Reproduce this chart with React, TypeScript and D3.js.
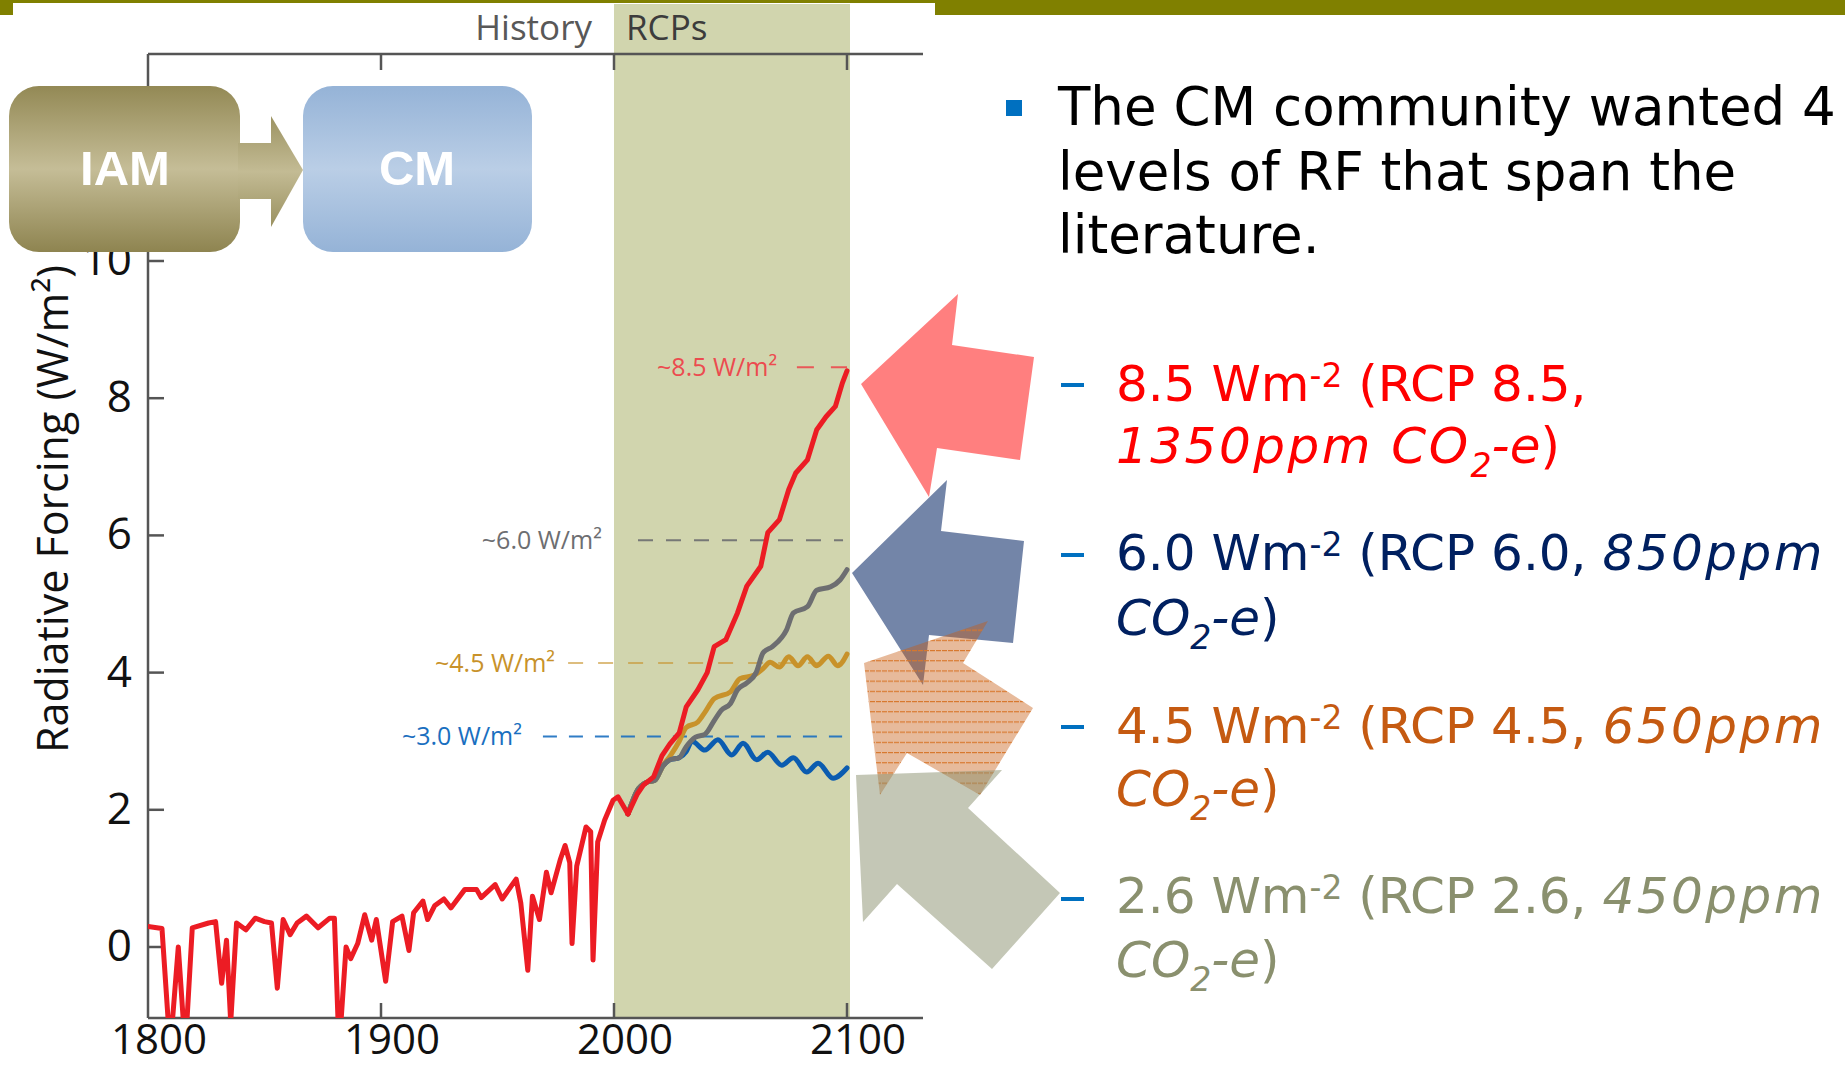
import React from 'react';
import * as d3 from 'd3';

const W = 1845;
const H = 1067;

// ---------- data ----------
const histYears = [1800, 1806, 1809.5, 1813, 1816, 1819, 1826, 1829, 1831.6, 1833.7, 1835.5, 1838, 1842, 1846, 1850, 1853, 1855.5, 1858, 1861, 1864, 1868, 1873, 1878, 1880, 1882, 1885, 1887, 1890, 1893, 1896, 1898, 1902, 1905, 1909, 1912, 1914, 1918, 1920, 1923, 1927, 1930, 1936, 1941, 1943, 1949, 1952, 1958, 1960, 1963, 1965, 1968, 1971, 1973, 1977, 1979, 1981, 1982, 1984, 1988, 1990, 1991, 1993, 1996, 1999.6, 2001.7, 2006];
const histValues = [0.30, 0.27, -1.5, 0.0, -1.5, 0.28, 0.35, 0.37, -0.53, 0.10, -1.1, 0.35, 0.25, 0.42, 0.37, 0.35, -0.6, 0.40, 0.18, 0.35, 0.45, 0.28, 0.42, 0.42, -1.5, 0.0, -0.17, 0.05, 0.47, 0.10, 0.40, -0.5, 0.37, 0.45, -0.05, 0.50, 0.67, 0.40, 0.60, 0.70, 0.57, 0.84, 0.84, 0.72, 0.91, 0.70, 0.99, 0.64, -0.34, 0.74, 0.40, 1.09, 0.79, 1.28, 1.48, 1.23, 0.05, 1.18, 1.75, 1.68, -0.19, 1.53, 1.85, 2.14, 2.19, 1.94];

const rcp85Years = [2006, 2010, 2012.6, 2017, 2020.6, 2024, 2028, 2031, 2036, 2040, 2043, 2048, 2053, 2057, 2063, 2066, 2071, 2075, 2078, 2083, 2087, 2091, 2095, 2098, 2100];
const rcp85Values = [1.94, 2.23, 2.36, 2.48, 2.79, 2.96, 3.12, 3.5, 3.75, 4.0, 4.38, 4.48, 4.87, 5.26, 5.55, 6.04, 6.23, 6.67, 6.91, 7.1, 7.54, 7.73, 7.88, 8.22, 8.4];

const rcp60Years = [2006, 2010, 2014, 2017.5, 2021, 2024, 2028, 2031, 2035, 2039, 2043, 2046, 2050, 2053, 2057, 2061, 2064, 2068, 2074, 2077, 2083, 2087, 2093, 2097, 2100];
const rcp60Values = [1.94, 2.28, 2.40, 2.43, 2.64, 2.73, 2.76, 2.92, 3.06, 3.10, 3.30, 3.45, 3.55, 3.75, 3.85, 4.0, 4.29, 4.38, 4.62, 4.87, 4.96, 5.2, 5.25, 5.35, 5.5];

const rcp45Years = [2006, 2010, 2014, 2017.5, 2021, 2024, 2028, 2031, 2036, 2039, 2043, 2050, 2054, 2060, 2064, 2067, 2071, 2075, 2079, 2083, 2087, 2092, 2096, 2100];
const rcp45Values = [1.94, 2.28, 2.40, 2.43, 2.64, 2.78, 3.0, 3.2, 3.28, 3.42, 3.62, 3.72, 3.91, 3.96, 4.06, 4.15, 4.08, 4.23, 4.1, 4.23, 4.1, 4.24, 4.1, 4.27];

const rcp26Years = [2006, 2010, 2014, 2017.5, 2021, 2024, 2028, 2031, 2033.5, 2039, 2044.6, 2050.5, 2055.4, 2061.2, 2066, 2072, 2077, 2082.7, 2087.6, 2094, 2100];
const rcp26Values = [1.94, 2.28, 2.40, 2.43, 2.64, 2.73, 2.76, 2.85, 3.0, 2.87, 3.02, 2.80, 2.97, 2.73, 2.84, 2.65, 2.76, 2.55, 2.68, 2.46, 2.61];

const xTicks = [1800, 1900, 2000, 2100];
const yTicks = [0, 2, 4, 6, 8, 10];

const levelLabels = ['~8.5 W/m²', '~6.0 W/m²', '~4.5 W/m²', '~3.0 W/m²'];
const levelValues = [8.45, 5.93, 4.14, 3.07];
const levelStart = [2078.5, 2010.3, 1980.3, 1969.5];
const levelEnd = [2100, 2098.3, 2097, 2097.9];
const levelLabelEnd = [2070, 1994.8, 1974.7, 1960.5];
const levelColors = ['#ec4b4f', '#6d6e71', '#c8922a', '#1a6fc0'];
const levelDash = ['17 17', '15 13', '15 15', '14 12'];

// ---------- scales ----------
const x = d3.scaleLinear().domain([1800, 2100]).range([148, 847]);
const y = d3.scaleLinear().domain([0, 10]).range([947, 261]);
const plotTop = 54;
const plotBottom = 1018;
const plotRight = 923;

const zip = (xs: number[], ys: number[]) => xs.map((v, i) => [v, ys[i]] as [number, number]);
const jagged = d3.line<[number, number]>().x(d => x(d[0])).y(d => y(d[1]));
const smooth = d3.line<[number, number]>().x(d => x(d[0])).y(d => y(d[1])).curve(d3.curveMonotoneX);

// decorative arrows (slide shapes, in page pixels)
const arrowRed = [[861, 384], [958, 294], [952, 345], [1034, 357], [1020, 460], [937, 448], [929, 497]];
const arrowBlue = [[852, 573], [947, 480], [941, 531], [1024, 541], [1013, 643], [929, 635], [923, 685]];
const arrowOrange = [[864, 663], [988, 621], [963, 663], [1033, 708], [980, 795], [907, 753], [880, 795]];
const arrowGray = [[856, 775], [1002, 770], [968, 808], [1060, 893], [992, 969], [897, 884], [863, 922]];
const pts = (p: number[][]) => p.map(q => q.join(',')).join(' ');

const chartFont = "'Open Sans', 'Noto Sans', sans-serif";
const slideFont = "'DejaVu Sans', Verdana, sans-serif";

export default function App() {
  const hist = zip(histYears, histValues);
  return (
    <svg width={W} height={H} style={{ position: 'absolute', left: 0, top: 0, background: '#fff' }}>
      <defs>
        <clipPath id="plot">
          <rect x={148} y={plotTop} width={plotRight - 148} height={plotBottom - plotTop} />
        </clipPath>
        <linearGradient id="iamGrad" x1="0" y1="0" x2="0" y2="1">
          <stop offset="0" stopColor="#938955" />
          <stop offset="0.5" stopColor="#c5bd97" />
          <stop offset="1" stopColor="#8e8450" />
        </linearGradient>
        <linearGradient id="cmGrad" x1="0" y1="0" x2="0" y2="1">
          <stop offset="0" stopColor="#95b3d7" />
          <stop offset="0.5" stopColor="#bacee6" />
          <stop offset="1" stopColor="#95b3d7" />
        </linearGradient>
        <linearGradient id="arrGrad" x1="0" y1="116" x2="0" y2="227" gradientUnits="userSpaceOnUse">
          <stop offset="0" stopColor="#9c9362" />
          <stop offset="0.5" stopColor="#c3bb94" />
          <stop offset="1" stopColor="#9a9160" />
        </linearGradient>
        <pattern id="orangeLines" patternUnits="userSpaceOnUse" x="0" y="7.4" width="12" height="10.2">
          <rect x="0" y="0" width="12" height="10.2" fill="#c55a11" fillOpacity="0.42" />
          <line x1="0" y1="0.5" x2="12" y2="0.5" stroke="#d8772c" strokeWidth="1.4" strokeDasharray="5 1" />
        </pattern>
      </defs>

      {/* slide top bar */}
      <rect x={0} y={0} width={W} height={15} fill="#808000" />
      <rect x={13} y={3} width={922} height={H} fill="#fff" />

      {/* RCP band */}
      <rect x={x(2000)} y={4} width={x(2100) - x(2000) + 3} height={plotBottom - 4} fill="#d1d5ae" />

      {/* header labels */}
      <text x={592} y={40} textAnchor="end" fontFamily={chartFont} fontSize={35} fill="#585858">History</text>
      <text x={626} y={40} fontFamily={chartFont} fontSize={35} fill="#3c3c3c">RCPs</text>

      {/* axes frame */}
      <g stroke="#555" strokeWidth={2.5} fill="none">
        <line x1={148} y1={plotTop} x2={plotRight} y2={plotTop} />
        <line x1={148} y1={plotTop} x2={148} y2={plotBottom} />
        <line x1={148} y1={plotBottom} x2={plotRight} y2={plotBottom} />
        {xTicks.slice(1).map(t => (
          <g key={t}>
            <line x1={x(t)} y1={plotTop} x2={x(t)} y2={plotTop + 16} />
            <line x1={x(t)} y1={plotBottom} x2={x(t)} y2={plotBottom - 15} />
          </g>
        ))}
        {yTicks.map(t => (
          <line key={t} x1={148} y1={y(t)} x2={164} y2={y(t)} />
        ))}
      </g>

      {/* tick labels */}
      {xTicks.map(t => (
        <text key={t} x={x(t) + 11} y={1054} textAnchor="middle" fontFamily={chartFont} fontSize={42} fill="#111">{t}</text>
      ))}
      {yTicks.map(t => (
        <text key={t} x={132} y={y(t) + 14} textAnchor="end" fontFamily={chartFont} fontSize={44} fill="#111">{t}</text>
      ))}
      <text transform="translate(68,509) rotate(-90)" textAnchor="middle" fontFamily={chartFont} fontSize={43} fill="#111">Radiative Forcing (W/m²)</text>

      {/* level dashed lines and labels */}
      {levelValues.map((v, i) => (
        <g key={i}>
          <line x1={x(levelStart[i])} x2={x(levelEnd[i])} y1={y(v)} y2={y(v)} stroke={levelColors[i]} strokeWidth={2} strokeDasharray={levelDash[i]} opacity={i === 2 ? 0.6 : 0.9} />
          <text x={x(levelLabelEnd[i])} y={y(v) + 9} textAnchor="end" fontFamily={chartFont} fontSize={25} fill={levelColors[i]}>{levelLabels[i]}</text>
        </g>
      ))}

      {/* data lines */}
      <g clipPath="url(#plot)" fill="none" strokeLinejoin="round" strokeLinecap="round">
        <path d={smooth(zip(rcp26Years, rcp26Values)) || ''} stroke="#0b5cb0" strokeWidth={5} />
        <path d={smooth(zip(rcp45Years, rcp45Values)) || ''} stroke="#c8922a" strokeWidth={5} />
        <path d={smooth(zip(rcp60Years, rcp60Values)) || ''} stroke="#6d6e71" strokeWidth={5} />
        <path d={jagged(hist) || ''} stroke="#ec1c24" strokeWidth={5} />
        <path d={jagged(zip(rcp85Years, rcp85Values)) || ''} stroke="#ec1c24" strokeWidth={5} />
      </g>

      {/* IAM -> CM */}
      <rect x={9} y={86} width={231} height={166} rx={30} fill="url(#iamGrad)" />
      <rect x={238} y={143} width={35} height={56} fill="url(#arrGrad)" />
      <polygon points="271,116 303,170 271,227" fill="url(#arrGrad)" />
      <rect x={303} y={86} width={229} height={166} rx={30} fill="url(#cmGrad)" />
      <text x={125} y={185} textAnchor="middle" fontFamily="'Liberation Sans', Arial, sans-serif" fontWeight="bold" fontSize={49} fill="#fff">IAM</text>
      <text x={417} y={185} textAnchor="middle" fontFamily="'Liberation Sans', Arial, sans-serif" fontWeight="bold" fontSize={49} fill="#fff">CM</text>

      {/* big arrows */}
      <polygon points={pts(arrowRed)} fill="#ff0000" fillOpacity={0.5} />
      <polygon points={pts(arrowBlue)} fill="#002060" fillOpacity={0.55} />
      <polygon points={pts(arrowOrange)} fill="url(#orangeLines)" />
      <polygon points={pts(arrowGray)} fill="#8a906e" fillOpacity={0.5} />

      {/* right text */}
      <rect x={1006} y={100} width={16} height={16} fill="#0070c0" />
      <g fontFamily={slideFont} fontSize={53} fill="#000">
        <text x={1058} y={125}>The CM community wanted 4</text>
        <text x={1058} y={190}>levels of RF that span the</text>
        <text x={1058} y={253}>literature.</text>
      </g>

      {[383, 553, 725, 897].map(yy => (
        <rect key={yy} x={1061} y={yy} width={23} height={4} fill="#0070c0" />
      ))}

      <g fontFamily={slideFont} fontSize={50}>
        <text x={1116} y={401} fill="#ff0000">8.5 Wm<tspan fontSize={33} dy={-14}>-2</tspan><tspan dy={14}> (RCP 8.5,</tspan></text>
        <text x={1116} y={463} fill="#ff0000"><tspan fontStyle="italic" letterSpacing={2.5}>1350ppm CO</tspan><tspan fontStyle="italic" fontSize={33} dy={14}>2</tspan><tspan fontStyle="italic" dy={-14}>-e</tspan>)</text>

        <text x={1116} y={570} fill="#002060">6.0 Wm<tspan fontSize={33} dy={-14}>-2</tspan><tspan dy={14}> (RCP 6.0, </tspan><tspan fontStyle="italic" letterSpacing={2.5}>850ppm</tspan></text>
        <text x={1116} y={635} fill="#002060"><tspan fontStyle="italic">CO</tspan><tspan fontStyle="italic" fontSize={33} dy={14}>2</tspan><tspan fontStyle="italic" dy={-14}>-e</tspan>)</text>

        <text x={1116} y={743} fill="#c55a11">4.5 Wm<tspan fontSize={33} dy={-14}>-2</tspan><tspan dy={14}> (RCP 4.5, </tspan><tspan fontStyle="italic" letterSpacing={2.5}>650ppm</tspan></text>
        <text x={1116} y={806} fill="#c55a11"><tspan fontStyle="italic">CO</tspan><tspan fontStyle="italic" fontSize={33} dy={14}>2</tspan><tspan fontStyle="italic" dy={-14}>-e</tspan>)</text>

        <text x={1116} y={913} fill="#8a906e">2.6 Wm<tspan fontSize={33} dy={-14}>-2</tspan><tspan dy={14}> (RCP 2.6, </tspan><tspan fontStyle="italic" letterSpacing={2.5}>450ppm</tspan></text>
        <text x={1116} y={977} fill="#8a906e"><tspan fontStyle="italic">CO</tspan><tspan fontStyle="italic" fontSize={33} dy={14}>2</tspan><tspan fontStyle="italic" dy={-14}>-e</tspan>)</text>
      </g>
    </svg>
  );
}
